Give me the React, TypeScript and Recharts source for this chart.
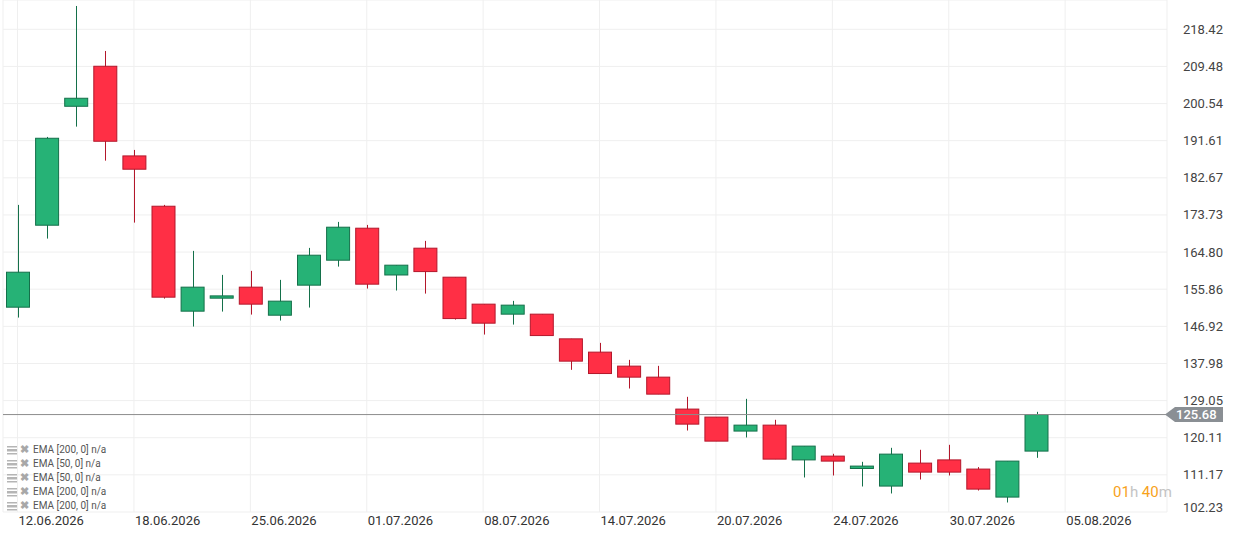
import React from 'react'
import { ComposedChart, Bar, XAxis, YAxis, CartesianGrid, ReferenceLine } from 'recharts'

// OHLC candles, one per slot (36 filled, 4 empty slots on the right)
const opens = [151.53, 171.26, 199.89, 209.52, 187.94, 175.83, 150.57, 153.7, 156.35, 149.6, 156.83, 162.84, 170.54, 159.28, 165.73, 158.75, 152.26, 149.85, 149.85, 143.91, 140.71, 137.34, 134.69, 127.0, 125.07, 121.71, 123.14, 114.77, 115.68, 112.7, 108.47, 114.0, 114.77, 112.56, 105.82, 116.89]
const highs = [176.15, 192.51, 224.03, 213.2, 189.38, 176.15, 165.08, 159.3, 160.27, 158.1, 165.8, 172.06, 171.33, 161.64, 167.49, 158.75, 152.26, 153.05, 149.85, 143.91, 142.94, 138.85, 137.41, 129.95, 125.07, 129.47, 124.42, 118.09, 116.24, 114.31, 117.68, 117.2, 118.4, 113.04, 114.48, 126.34]
const lows = [149.03, 168.04, 194.99, 186.8, 171.89, 153.6, 146.87, 150.47, 149.75, 148.31, 151.44, 161.3, 156.01, 155.54, 154.8, 148.55, 144.94, 147.34, 144.7, 136.45, 135.56, 131.95, 130.6, 121.84, 119.29, 120.17, 114.96, 110.54, 111.02, 108.37, 106.69, 110.05, 111.02, 107.4, 104.52, 115.27]
const closes = [159.95, 192.19, 201.82, 191.47, 184.74, 153.94, 156.35, 154.25, 152.26, 152.98, 164.04, 170.78, 157.07, 161.64, 160.1, 148.79, 147.68, 152.02, 144.7, 138.54, 135.56, 134.69, 130.6, 123.38, 119.29, 123.14, 114.96, 118.09, 114.48, 113.28, 116.16, 111.83, 111.83, 107.74, 114.48, 125.68]

const SLOTS = 40
const dateTicks = [0, 4, 8, 12, 16, 20, 24, 28, 32, 36]
const dateLabels = ['12.06.2026', '18.06.2026', '25.06.2026', '01.07.2026', '08.07.2026', '14.07.2026', '20.07.2026', '24.07.2026', '30.07.2026', '05.08.2026']
const priceTicks = [102.23, 111.17, 120.11, 129.05, 137.98, 146.92, 155.86, 164.8, 173.73, 182.67, 191.61, 200.54, 209.48, 218.42]
const lastPrice = 125.68
const legendRows = ['EMA [200, 0] n/a', 'EMA [50, 0] n/a', 'EMA [50, 0] n/a', 'EMA [200, 0] n/a', 'EMA [200, 0] n/a']

const data = Array.from({ length: SLOTS }, (_, i) =>
  i < opens.length
    ? { i, o: opens[i], h: highs[i], l: lows[i], c: closes[i], range: [lows[i], highs[i]] }
    : { i }
)

const Candle = (props: any) => {
  const { x, y, width, height, payload } = props
  if (!payload || payload.o == null) return null
  const { o, h, l, c } = payload
  const top = Math.min(y, y + height)
  const bottom = Math.max(y, y + height)
  const pix = (v: number) => top + ((h - v) / (h - l || 1)) * (bottom - top)
  const up = c >= o
  const fill = up ? '#26b276' : '#ff2f45'
  const stroke = up ? '#14704a' : '#b3172b'
  const cx = Math.round(x + width / 2) + 0.5
  const bt = Math.min(pix(o), pix(c))
  const bh = Math.max(1.5, Math.abs(pix(o) - pix(c)))
  return (
    <g>
      <line x1={cx} x2={cx} y1={pix(h)} y2={pix(l)} stroke={stroke} strokeWidth={1} />
      <rect x={x + 0.5} y={bt} width={width - 1} height={bh} fill={fill} stroke={stroke} strokeWidth={1} />
    </g>
  )
}

const DateTick = ({ x, y, payload }: any) => (
  <text x={x + 1} y={y + 5} textAnchor="start" fontSize={13} fill="#333">
    {dateLabels[dateTicks.indexOf(payload.value)]}
  </text>
)

const PriceTick = ({ x, y, payload }: any) => (
  <text x={x + 8} y={payload.value === priceTicks[0] ? y - 0.5 : y + 4.5} textAnchor="start" fontSize={13} fill="#444">
    {payload.value.toFixed(2)}
  </text>
)

const PriceTag = ({ viewBox }: any) => {
  const { x, y, width } = viewBox
  const r = x + width
  return (
    <g>
      <polygon
        points={`${r - 2},${y} ${r + 8},${y - 7.5} ${r + 56},${y - 7.5} ${r + 56},${y + 7.5} ${r + 8},${y + 7.5}`}
        fill="#8a8f94"
      />
      <text x={r + 9} y={y + 4.5} fontSize={13} fontWeight={500} fill="#fff">
        {lastPrice.toFixed(2)}
      </text>
    </g>
  )
}

const ListIcon = () => (
  <svg width={10} height={9} style={{ marginRight: 3 }}>
    <rect x={0} y={0} width={10} height={1.5} fill="#b5b5b5" />
    <rect x={0} y={3} width={10} height={2.5} fill="#b5b5b5" />
    <rect x={0} y={7} width={10} height={1.5} fill="#b5b5b5" />
  </svg>
)

export default function App() {
  return (
    <div style={{ position: 'absolute', left: 0, top: 0, width: 1235, height: 538, background: '#fff', fontFamily: 'Roboto, sans-serif' }}>
      <ComposedChart width={1235} height={538} data={data} margin={{ top: 0, right: 0, left: 3, bottom: 0 }}>
        <CartesianGrid stroke="#efefef" />
        <XAxis
          dataKey="i"
          type="category"
          ticks={dateTicks}
          interval={0}
          axisLine={false}
          tickLine={false}
          stroke="none"
          height={26}
          tick={<DateTick />}
        />
        <YAxis
          orientation="right"
          type="number"
          domain={[102.23, 225.47]}
          ticks={priceTicks}
          allowDataOverflow
          axisLine={false}
          tickLine={false}
          stroke="none"
          width={68}
          tick={<PriceTick />}
        />
        <Bar dataKey="range" barSize={24} shape={<Candle />} isAnimationActive={false} />
        <ReferenceLine y={lastPrice} stroke="#8c8c8c" strokeWidth={1} label={<PriceTag />} />
      </ComposedChart>
      <div style={{ position: 'absolute', left: 1113, top: 483, fontSize: 15, color: '#f7a21b', whiteSpace: 'nowrap' }}>
        01<span style={{ color: '#c4c4c4' }}>h</span> 40<span style={{ color: '#c4c4c4' }}>m</span>
      </div>
      <div style={{ position: 'absolute', left: 7, top: 443, fontSize: 10, color: '#555', lineHeight: '14px' }}>
        {legendRows.map((t, k) => (
          <div key={k} style={{ display: 'flex', alignItems: 'center', whiteSpace: 'nowrap' }}>
            <ListIcon />
            <span style={{ color: '#a8a8a8', fontSize: 11, fontWeight: 700, marginRight: 4 }}>✖</span>
            <span>{t}</span>
          </div>
        ))}
      </div>
    </div>
  )
}
